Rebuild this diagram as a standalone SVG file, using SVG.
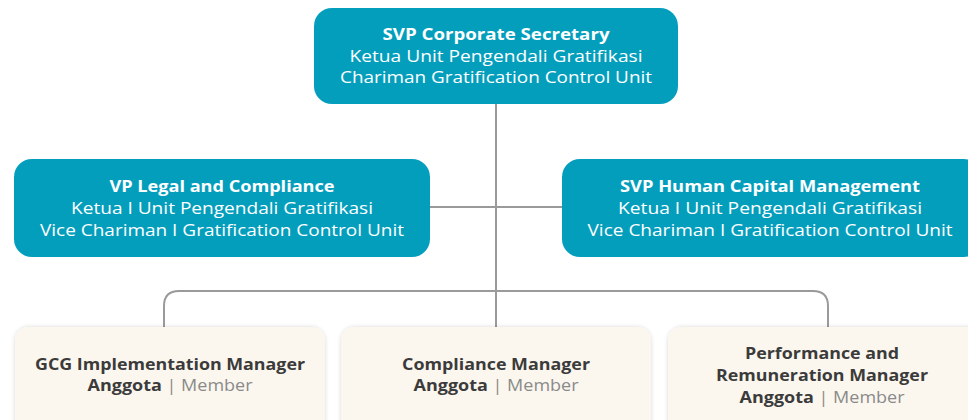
<svg xmlns="http://www.w3.org/2000/svg" width="968" height="420" viewBox="0 0 968 420">
<defs>
<style>
.tb{fill:#049ebd}
.cb{fill:#fbf7ee}
.t{font-family:"Open Sans","Liberation Sans",sans-serif;font-size:16px;text-anchor:middle}
.w{fill:#ffffff}
.b{font-weight:700}
.m{font-weight:500}
.l{font-weight:400}
.d{fill:#3b3b3b}
.g{fill:#8a8a8a;font-weight:400}
.conn{fill:none;stroke:#9a9a9a;stroke-width:2}
</style>
<filter id="sh" x="-10%" y="-20%" width="120%" height="140%">
<feDropShadow dx="0" dy="0" stdDeviation="2" flood-color="#000" flood-opacity="0.15"/>
</filter>
</defs>
<rect width="968" height="420" fill="#ffffff"/>
<g id="connectors">
<path class="conn" d="M496 104 V327"/>
<path class="conn" d="M430 207 H562"/>
<path class="conn" d="M164 327 V306 Q164 291 179 291 H813 Q828 291 828 306 V327"/>
</g>
<g id="top">
<rect class="tb" x="314" y="8" width="364" height="96" rx="18"/>
<text class="t w b" x="496" y="40" textLength="227" lengthAdjust="spacingAndGlyphs">SVP Corporate Secretary</text>
<text class="t w m" x="496" y="62" textLength="293" lengthAdjust="spacingAndGlyphs">Ketua Unit Pengendali Gratifikasi</text>
<text class="t w l" x="496" y="83" textLength="312" lengthAdjust="spacingAndGlyphs">Chariman Gratification Control Unit</text>
</g>
<g id="left">
<rect class="tb" x="14" y="159" width="416" height="98" rx="18"/>
<text class="t w b" x="222" y="192" textLength="225" lengthAdjust="spacingAndGlyphs">VP Legal and Compliance</text>
<text class="t w m" x="222" y="214" textLength="302" lengthAdjust="spacingAndGlyphs">Ketua I Unit Pengendali Gratifikasi</text>
<text class="t w l" x="222" y="236" textLength="364" lengthAdjust="spacingAndGlyphs">Vice Chariman I Gratification Control Unit</text>
</g>
<g id="right">
<rect class="tb" x="562" y="159" width="420" height="98" rx="18"/>
<text class="t w b" x="770" y="192" textLength="300" lengthAdjust="spacingAndGlyphs">SVP Human Capital Management</text>
<text class="t w m" x="770" y="214" textLength="304" lengthAdjust="spacingAndGlyphs">Ketua I Unit Pengendali Gratifikasi</text>
<text class="t w l" x="770" y="236" textLength="365" lengthAdjust="spacingAndGlyphs">Vice Chariman I Gratification Control Unit</text>
</g>
<g id="gcg">
<rect class="cb" x="15" y="327" width="310" height="110" rx="14" filter="url(#sh)"/>
<text class="t d b" x="170" y="370" textLength="270" lengthAdjust="spacingAndGlyphs">GCG Implementation Manager</text>
<text class="t d b" x="170" y="391" textLength="165" lengthAdjust="spacingAndGlyphs">Anggota <tspan class="g">| Member</tspan></text>
</g>
<g id="compliance">
<rect class="cb" x="341" y="327" width="310" height="110" rx="14" filter="url(#sh)"/>
<text class="t d b" x="496" y="370" textLength="188" lengthAdjust="spacingAndGlyphs">Compliance Manager</text>
<text class="t d b" x="496" y="391" textLength="165" lengthAdjust="spacingAndGlyphs">Anggota <tspan class="g">| Member</tspan></text>
</g>
<g id="performance">
<rect class="cb" x="668" y="327" width="320" height="110" rx="14" filter="url(#sh)"/>
<text class="t d b" x="822" y="359" textLength="154" lengthAdjust="spacingAndGlyphs">Performance and</text>
<text class="t d b" x="822" y="381" textLength="212" lengthAdjust="spacingAndGlyphs">Remuneration Manager</text>
<text class="t d b" x="822" y="403" textLength="165" lengthAdjust="spacingAndGlyphs">Anggota <tspan class="g">| Member</tspan></text>
</g>
</svg>
